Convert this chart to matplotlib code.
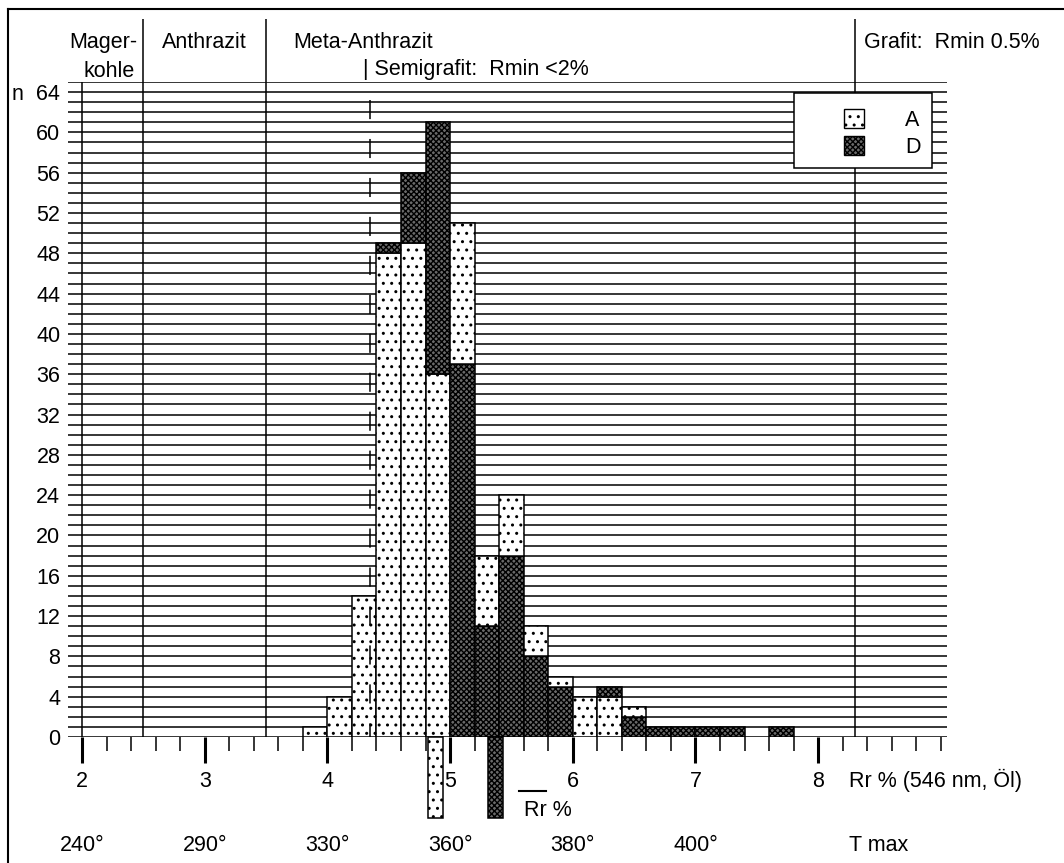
import matplotlib.pyplot as plt
import matplotlib.ticker as ticker
from matplotlib.patches import Patch, Rectangle
from matplotlib.lines import Line2D

plt.rcParams['font.family'] = ['Liberation Sans', 'DejaVu Sans']
plt.rcParams['font.size'] = 15.5
plt.rcParams['hatch.linewidth'] = 1.0

#--- Daten: Reflexionsklassen (Rr %, Breite 0.2) und Anzahl Messungen
bin_left = [3.8, 4.0, 4.2, 4.4, 4.6, 4.8, 5.0, 5.2, 5.4, 5.6,
            5.8, 6.0, 6.2, 6.4, 6.6, 6.8, 7.0, 7.2, 7.4, 7.6]
count_A = [1, 4, 14, 48, 49, 36, 14, 7, 6, 3, 1, 4, 4, 1, 0, 0, 0, 0, 0, 0]
count_D = [0, 0, 0, 1, 7, 25, 37, 11, 18, 8, 5, 0, 1, 2, 1, 1, 1, 1, 0, 1]
bin_width = 0.2

# Mittelwerte Rr %
mean_A = 4.88
mean_D = 5.37

xtick_vals = [2, 3, 4, 5, 6, 7, 8]
xtick_labels = ['2', '3', '4', '5', '6', '7', '8']
tmax_labels = ['240°', '290°', '330°', '360°', '380°', '400°']
ytick_vals = list(range(0, 65, 4))
ytick_labels = [str(v) for v in ytick_vals[:-1]] + ['n  64']
zone_lines = [2.5, 3.5, 8.3]
semigrafit_x = 4.35

style_A = dict(facecolor='white', edgecolor='black', hatch='..')
style_D = dict(facecolor='#6a6a6a', edgecolor='black', hatch='xxxxxx')

#--- Figur, Achse pixelgenau platzieren
W, H = 1064, 863
fig = plt.figure(figsize=(W / 100, H / 100), dpi=100)
x0_px, x1_px = 68, 947
y0_px, y1_px = 737, 82
ax = fig.add_axes([x0_px / W, 1 - y0_px / H, (x1_px - x0_px) / W, (y0_px - y1_px) / H])
ax.set_xlim(1.886, 9.05)
ax.set_ylim(0, 65)
for s in ax.spines.values():
    s.set_visible(False)

# horizontale Linien bei jedem n
ax.set_axisbelow(True)
ax.set_yticks(ytick_vals)
ax.set_yticklabels(ytick_labels)
ax.yaxis.set_minor_locator(ticker.MultipleLocator(1))
ax.grid(axis='y', which='both', color='black', linewidth=1.1)
ax.tick_params(axis='y', which='both', length=0, pad=5.5)

# x-Achse unten mit langen und kurzen Strichen
ax.set_xticks(xtick_vals)
ax.set_xticklabels(xtick_labels)
ax.xaxis.set_minor_locator(ticker.FixedLocator([2 + 0.2 * i for i in range(36)]))
ax.tick_params(axis='x', which='major', direction='out', length=18.5, width=2.2, pad=6)
ax.tick_params(axis='x', which='minor', direction='out', length=10, width=1.1)

# vertikale Linien: Rr = 2 und Grenzen der Inkohlungsstufen
ax.axvline(2, color='black', linewidth=1.1)
ax.vlines(zone_lines, 0, 71.3, color='black', linewidth=1.1, clip_on=False)
ax.plot([semigrafit_x, semigrafit_x], [63.2, 0], color='black', linewidth=1.1,
        linestyle=(0, (12.5, 13)), zorder=3)

#--- gestapelte Balken, groessere Gruppe jeweils unten
for left, a, d in zip(bin_left, count_A, count_D):
    if a >= d:
        parts = [(a, 0, style_A), (d, a, style_D)]
    else:
        parts = [(d, 0, style_D), (a, d, style_A)]
    for h, b, st in parts:
        if h > 0:
            ax.bar(left, h, width=bin_width, bottom=b, align='edge',
                   linewidth=1.1, zorder=2, **st)

# Mittelwerte als Balken unter der Achse
ax.bar(mean_A, -8, width=0.12, bottom=0, linewidth=1.1, clip_on=False, zorder=2, **style_A)
ax.bar(mean_D, -8, width=0.13, bottom=0, linewidth=1.1, clip_on=False, zorder=2, **style_D)
ax.text(5.603, -7.3, 'Rr %', ha='left', va='center')
ax.plot([5.563, 5.783], [-5.36, -5.36], color='black', linewidth=1.5, clip_on=False)

# Achsbeschriftungen
ax.text(8.25, -4.3, 'Rr % (546 nm, Öl)', ha='left', va='center')
for xv, lab in zip(xtick_vals, tmax_labels):
    ax.text(xv, -10.8, lab, ha='center', va='center')
ax.text(8.25, -10.8, 'T max', ha='left', va='center')

# Inkohlungsstufen oben
ax.text(2.45, 68.9, 'Mager-', ha='right', va='center')
ax.text(2.22, 66.0, 'kohle', ha='center', va='center')
ax.text(3.0, 68.9, 'Anthrazit', ha='center', va='center')
ax.text(3.72, 68.9, 'Meta-Anthrazit', ha='left', va='center')
ax.text(4.29, 66.2, '| Semigrafit:  Rmin <2%', ha='left', va='center')
ax.text(8.37, 68.95, 'Grafit:  Rmin 0.5%', ha='left', va='center')

#--- Legende mit Kasten
box = Rectangle((7.80, 56.5), 1.13, 7.4, facecolor='white', edgecolor='black',
                linewidth=1.1, zorder=4)
ax.add_patch(box)
handles = [Patch(linewidth=1.0, **style_A), Patch(linewidth=1.0, **style_D)]
leg = ax.legend(handles, ['A', 'D'], loc='upper left', bbox_to_anchor=(8.12, 63.35),
                bbox_transform=ax.transData, frameon=False, borderpad=0,
                handlelength=0.95, handleheight=0.95, handletextpad=1.9,
                labelspacing=0.25)
leg.set_zorder(5)

# Rahmen links und oben
fig.add_artist(Line2D([8 / W, 1.0], [1 - 9 / H, 1 - 9 / H], color='black', linewidth=1.5))
fig.add_artist(Line2D([8 / W, 8 / W], [0.0, 1 - 9 / H], color='black', linewidth=1.5))

plt.savefig('out.png', dpi=100)
